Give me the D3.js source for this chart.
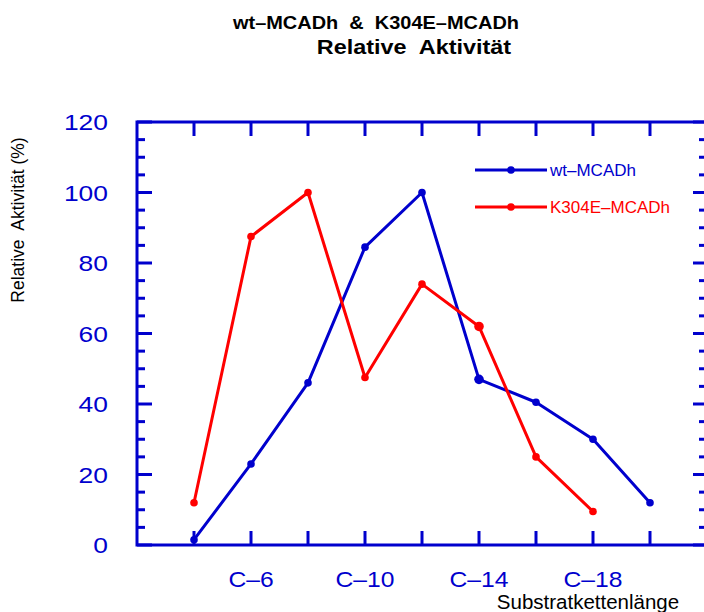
<!DOCTYPE html>
<html>
<head>
<meta charset="utf-8">
<title>wt-MCADh & K304E-MCADh</title>
<script src="https://cdn.jsdelivr.net/npm/d3@7"></script>
<style>
  body { margin: 0; background: #fff; }
  text { font-family: "Liberation Sans", Arial, sans-serif; }
</style>
</head>
<body>
<svg width="704" height="612" id="mainsvg"></svg>
<script>
// chain length (carbon atoms) and relative activity in %
const chainLength = [4, 6, 8, 10, 12, 14, 16, 18, 20];
const wtActivity = [1.5, 23, 46, 84.5, 100, 47, 40.5, 30, 12];
const k304eChain = [4, 6, 8, 10, 12, 14, 16, 18];
const k304eActivity = [12, 87.5, 100, 47.5, 74, 62, 25, 9.5];
const xLabelTicks = [6, 10, 14, 18];
const yTicks = [0, 20, 40, 60, 80, 100, 120];
const seriesNames = ['wt\u2013MCADh', 'K304E\u2013MCADh'];

const blue = '#0000cd', red = '#ff0000';
const svg = d3.select('svg');

const x = d3.scaleLinear().domain([2, 22]).range([137, 707]);
const y = d3.scaleLinear().domain([0, 120]).range([545, 122]);

// widen text a bit, the original font is drawn wider than Arial
const stretch = (sel, k) => sel.each(function () {
  const len = this.getComputedTextLength();
  d3.select(this).attr('textLength', len * k).attr('lengthAdjust', 'spacingAndGlyphs');
});

// title
svg.append('text').attr('x', 376).attr('y', 29).attr('text-anchor', 'middle')
  .attr('font-size', 19).attr('font-weight', 'bold').attr('xml:space', 'preserve')
  .text('wt\u2013MCADh  &  K304E\u2013MCADh').call(stretch, 1.05);
svg.append('text').attr('x', 414).attr('y', 54).attr('text-anchor', 'middle')
  .attr('font-size', 20).attr('font-weight', 'bold').attr('xml:space', 'preserve')
  .text('Relative  Aktivit\u00e4t').call(stretch, 1.17);

// axes: ticks point inward
const minorY = d3.range(0, 121, 5);
const majorX = d3.range(4, 21, 2);
const g = svg.append('g').attr('stroke', blue).attr('stroke-width', 3);

g.selectAll('.yl').data(minorY).join('line')
  .attr('x1', x(2)).attr('x2', d => x(2) + (d % 20 === 0 ? 15 : 8))
  .attr('y1', d => y(d)).attr('y2', d => y(d));
g.selectAll('.yr').data(minorY).join('line')
  .attr('x1', x(22)).attr('x2', d => x(22) - (d % 20 === 0 ? 14 : 8))
  .attr('y1', d => y(d)).attr('y2', d => y(d));
g.selectAll('.xb').data(majorX).join('line')
  .attr('x1', d => x(d)).attr('x2', d => x(d))
  .attr('y1', y(0)).attr('y2', y(0) - 14);
g.selectAll('.xt').data(majorX).join('line')
  .attr('x1', d => x(d)).attr('x2', d => x(d))
  .attr('y1', y(120)).attr('y2', y(120) + 14);
g.append('path').attr('fill', 'none').attr('stroke-linecap', 'square')
  .attr('d', `M${x(22)},${y(0)}H${x(2)}V${y(120)}H${x(22)}`);

svg.selectAll('.ylab').data(yTicks).join('text')
  .attr('x', 108).attr('y', d => y(d) + 8).attr('text-anchor', 'end')
  .attr('font-size', 22).attr('fill', blue).text(d => d).call(stretch, 1.2);
svg.selectAll('.xlab').data(xLabelTicks).join('text')
  .attr('x', d => x(d)).attr('y', 587).attr('text-anchor', 'middle')
  .attr('font-size', 22).attr('fill', blue).text(d => 'C\u2013' + d).call(stretch, 1.12);

// axis titles
svg.append('text').attr('transform', 'translate(24,220) rotate(-90)').attr('text-anchor', 'middle')
  .attr('font-size', 17.5).attr('fill', '#000')
  .attr('xml:space', 'preserve').text('Relative  Aktivit\u00e4t (%)');
svg.append('text').attr('x', 588).attr('y', 609).attr('text-anchor', 'middle')
  .attr('font-size', 20.5).attr('fill', '#000').text('Substratkettenl\u00e4nge');

// series
const line = d3.line().x(d => x(d[0])).y(d => y(d[1]));
const series = [
  { name: seriesNames[0], color: blue, pts: d3.zip(chainLength, wtActivity) },
  { name: seriesNames[1], color: red, pts: d3.zip(k304eChain, k304eActivity) }
];
series.forEach(s => {
  svg.append('path').attr('d', line(s.pts)).attr('fill', 'none')
    .attr('stroke', s.color).attr('stroke-width', 3).attr('stroke-linejoin', 'round');
  svg.selectAll(null).data(s.pts).join('circle')
    .attr('cx', d => x(d[0])).attr('cy', d => y(d[1]))
    .attr('r', d => d[0] === 14 ? 4.8 : 3.8).attr('fill', s.color);
});

// legend
series.forEach((s, i) => {
  const ly = 170 + i * 37;
  svg.append('line').attr('x1', 475).attr('x2', 547).attr('y1', ly).attr('y2', ly)
    .attr('stroke', s.color).attr('stroke-width', 3);
  svg.append('circle').attr('cx', 511).attr('cy', ly).attr('r', 3.8).attr('fill', s.color);
  svg.append('text').attr('x', 550).attr('y', ly + 6).attr('font-size', 17)
    .attr('fill', s.color).text(s.name);
});
</script>
</body>
</html>
